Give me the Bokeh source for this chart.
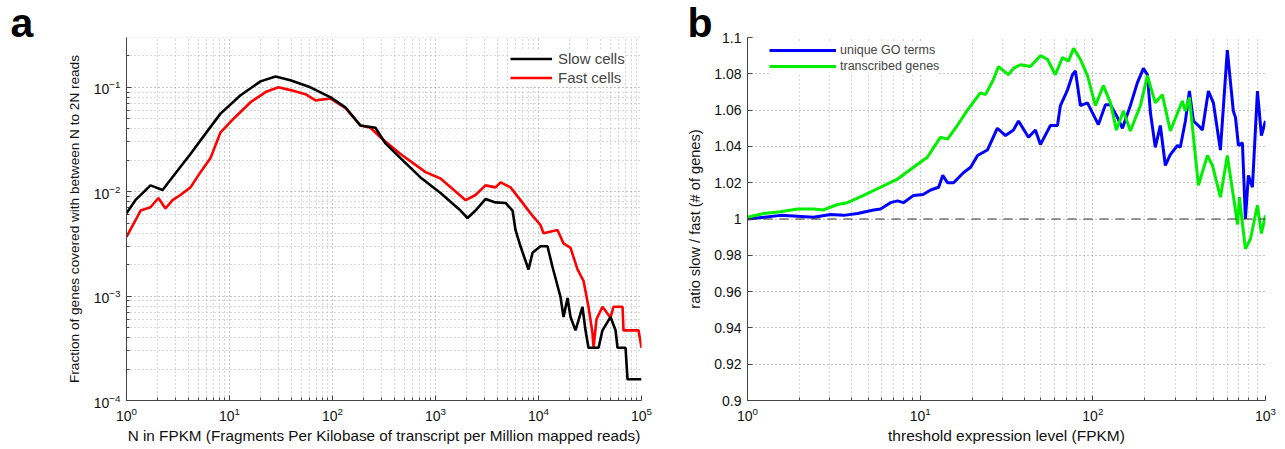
from bokeh.plotting import figure
from bokeh.layouts import row
from bokeh.models import (FixedTicker, Legend, LegendItem, Span,
                          CustomJSTickFormatter, Range1d)
from bokeh.embed import file_html
from bokeh.resources import INLINE

FONT = "Liberation Sans"

# ---------------- panel a data ----------------
slow_n = [1, 1.22, 1.71, 2.24, 2.99, 4.18, 5.85, 8.18, 12.8, 20, 28, 39, 61, 96, 134,
          187, 261, 327, 457, 715, 1119, 1749, 2046, 2445, 3055, 3828, 4786, 5598,
          5980, 6685, 8000, 8750, 10450, 12220, 13680, 16360, 17500, 19140, 20460,
          22870, 26730, 28590, 30570, 38280, 41800, 50000, 55980, 58500, 70000,
          73140, 100000]
slow_frac = [0.0062, 0.0083, 0.0115, 0.0104, 0.015, 0.023, 0.036, 0.056, 0.084, 0.114,
             0.127, 0.117, 0.1, 0.08, 0.064, 0.043, 0.041, 0.029, 0.021, 0.0137,
             0.0097, 0.0066, 0.0056, 0.0066, 0.0085, 0.0079, 0.0078, 0.0066, 0.0043,
             0.0030, 0.0018, 0.0026, 0.003, 0.003, 0.0019, 0.00098, 0.00063, 0.00096,
             0.00063, 0.00047, 0.00079, 0.00047, 0.00032, 0.00032, 0.00047, 0.00063,
             0.00047, 0.00032, 0.00032, 0.00016, 0.00016]

fast_n = [1, 1.22, 1.37, 1.71, 2.04, 2.39, 2.8, 3.34, 4.18, 5.23, 6.54, 8.18, 11.4, 16,
          22.4, 29.8, 39, 54.6, 68.4, 96, 134, 187, 234, 293, 457, 801, 1119, 1963,
          2445, 3055, 3828, 4286, 5353, 6685, 8370, 10450, 11190, 15290, 17500,
          20460, 23920, 27350, 30570, 33450, 34220, 36560, 41800, 50000, 53460,
          65430, 66870, 93500, 100000]
fast_frac = [0.0037, 0.0053, 0.0066, 0.0071, 0.0087, 0.0069, 0.0083, 0.0093, 0.011,
             0.0154, 0.021, 0.037, 0.052, 0.072, 0.09, 0.1, 0.094, 0.086, 0.075, 0.078,
             0.063, 0.043, 0.041, 0.033, 0.023, 0.0154, 0.0134, 0.0083, 0.0093, 0.0115,
             0.011, 0.0123, 0.011, 0.0083, 0.0062, 0.0048, 0.004, 0.0043, 0.0032,
             0.0029, 0.0018, 0.0014, 0.00079, 0.00044, 0.00032, 0.0006, 0.00079,
             0.00062, 0.00079, 0.00079, 0.00047, 0.00047, 0.00032]

# ---------------- panel b data ----------------
thr_go = [1, 1.55, 1.95, 2.41, 3.03, 3.6, 4.34, 5.37, 5.89, 6.73, 7.39, 8.0, 9.15, 10.4,
          11.5, 12.8, 13.5, 14.4, 15.6, 17.8, 19.6, 21.5, 24.5, 28, 31.2, 34.7, 37.1,
          42.4, 46.5, 49.7, 56.8, 62.4, 64.9, 71.3, 76.2, 79.3, 84.7, 93.1, 100.7,
          107.7, 118.3, 126.5, 138.8, 148.4, 165, 181, 196.3, 207, 215.6, 230, 246,
          263, 281, 309, 321, 343.6, 362.4, 382.6, 408.7, 431, 467, 499, 548, 601,
          651, 670, 697, 735, 765, 796, 840, 898, 947, 1000]
ratio_go = [1.0, 1.002, 1.0015, 1.001, 1.0025, 1.002, 1.003, 1.005, 1.0055, 1.009,
            1.010, 1.009, 1.013, 1.0135, 1.016, 1.0175, 1.024, 1.020, 1.020, 1.0255,
            1.0285, 1.035, 1.038, 1.050, 1.046, 1.049, 1.054, 1.045, 1.049, 1.041,
            1.0515, 1.0515, 1.0625, 1.071, 1.0795, 1.0815, 1.0625, 1.064, 1.0575,
            1.052, 1.063, 1.063, 1.056, 1.050, 1.0625, 1.075, 1.083, 1.0795, 1.0585,
            1.0395, 1.0515, 1.0295, 1.0355, 1.0405, 1.0395, 1.054, 1.0705, 1.054,
            1.0515, 1.049, 1.0705, 1.064, 1.038, 1.093, 1.0595, 1.056, 1.0405, 1.042,
            1.0, 1.024, 1.0175, 1.0705, 1.046, 1.054]

thr_genes = [1, 1.24, 1.55, 1.95, 2.41, 2.75, 3.32, 3.79, 4.7, 5.89, 7.39, 9.15, 11.0,
             13.1, 14.4, 16.4, 18.8, 22.3, 23.9, 26.6, 28.4, 32.4, 34.7, 38.1, 43.5,
             49.7, 54.6, 60.7, 66.7, 72.3, 77.3, 84.7, 93.1, 103.5, 115.1, 126.5, 137,
             150.3, 165, 188.6, 207, 230, 252.8, 281, 330, 343.6, 362.4, 408.7, 461,
             493, 548, 601, 689, 706, 765, 818, 898, 947, 1000]
ratio_genes = [1.001, 1.003, 1.004, 1.0055, 1.0055, 1.005, 1.008, 1.009, 1.013, 1.0175,
               1.022, 1.0285, 1.034, 1.045, 1.044, 1.0515, 1.060, 1.0695, 1.0685,
               1.077, 1.084, 1.0795, 1.083, 1.085, 1.084, 1.090, 1.088, 1.0795, 1.089,
               1.087, 1.094, 1.088, 1.079, 1.0625, 1.0735, 1.064, 1.049, 1.0595,
               1.0485, 1.0625, 1.079, 1.064, 1.0685, 1.0485, 1.065, 1.0595, 1.067,
               1.0185, 1.035, 1.0295, 1.012, 1.035, 0.997, 1.012, 0.9835, 0.989,
               1.0075, 0.992, 1.002]

# ---------------- ticks ----------------
a_xticks = [1, 10, 100, 1000, 10000, 100000]
a_yticks = [1e-4, 1e-3, 1e-2, 1e-1]
b_xticks = [1, 10, 100, 1000]
b_yticks = [0.9, 0.92, 0.94, 0.96, 0.98, 1.0, 1.02, 1.04, 1.06, 1.08, 1.1]


def minor_log(lo, hi):
    return [m * 10.0 ** e for e in range(lo, hi) for m in range(2, 10)]


def style(p, xlab_size, ylab_size, title_offset):
    p.outline_line_color = None
    p.background_fill_color = "white"
    t = p.title
    t.text_font = FONT
    t.text_font_size = "41px"
    t.text_font_style = "bold"
    t.text_color = "black"
    t.align = "left"
    t.offset = title_offset
    t.standoff = -16
    for ax in (p.xaxis[0], p.yaxis[0]):
        ax.axis_line_color = "#444444"
        ax.major_tick_line_color = "#444444"
        ax.minor_tick_line_color = "#444444"
        ax.major_tick_in = 5
        ax.major_tick_out = 0
        ax.minor_tick_in = 3
        ax.minor_tick_out = 0
        ax.major_label_text_font = FONT
        ax.major_label_text_font_size = "14px"
        ax.major_label_text_color = "#111111"
        ax.axis_label_text_font = FONT
        ax.axis_label_text_font_style = "normal"
        ax.axis_label_text_color = "#111111"
    p.xaxis[0].axis_label_text_font_size = xlab_size
    p.yaxis[0].axis_label_text_font_size = ylab_size
    p.xaxis[0].major_label_standoff = 6
    p.xaxis[0].axis_label_standoff = 3
    p.yaxis[0].major_label_standoff = 6
    p.yaxis[0].axis_label_standoff = 9
    for g in (p.xgrid[0], p.ygrid[0]):
        g.grid_line_color = "#8a8a8a"
        g.grid_line_dash = "1 3"
        g.grid_line_width = 1
        g.minor_grid_line_color = "#b0b0b0"
        g.minor_grid_line_dash = "1 3"
        g.minor_grid_line_width = 1


# ---------------- panel a ----------------
pa = figure(width=680, height=449, x_axis_type="log", y_axis_type="log",
            x_range=Range1d(1, 1e5), y_range=Range1d(1e-4, 0.3), title="a",
            output_backend="svg", toolbar_location=None,
            min_border_left=126, min_border_right=39, min_border_top=37,
            min_border_bottom=49)
pa.xaxis[0].ticker = FixedTicker(ticks=a_xticks, minor_ticks=minor_log(0, 5))
pa.yaxis[0].ticker = FixedTicker(ticks=a_yticks, minor_ticks=minor_log(-4, 0))
pa.xaxis[0].axis_label = "N in FPKM (Fragments Per Kilobase of transcript per Million mapped reads)"
pa.yaxis[0].axis_label = "Fraction of genes covered with between N to 2N reads"
style(pa, "15.3px", "13.6px", -116)

r_fast = pa.line(fast_n, fast_frac, line_color="#ff0000", line_width=2.6)
r_slow = pa.line(slow_n, slow_frac, line_color="#000000", line_width=2.6)

leg_a = Legend(items=[LegendItem(label="Slow cells", renderers=[r_slow]),
                      LegendItem(label="Fast cells", renderers=[r_fast])],
               location=(384, 313), glyph_width=42, glyph_height=19, label_height=19,
               spacing=0, padding=4, label_standoff=6, label_text_font=FONT,
               label_text_font_size="15px", border_line_color=None,
               background_fill_color="white", background_fill_alpha=1.0)
pa.add_layout(leg_a)

# ---------------- panel b ----------------
pb = figure(width=605, height=449, x_axis_type="log",
            x_range=Range1d(1, 1000), y_range=Range1d(0.9, 1.1), title="b",
            output_backend="svg", toolbar_location=None,
            min_border_left=67, min_border_right=20, min_border_top=35,
            min_border_bottom=49)
pb.xaxis[0].ticker = FixedTicker(ticks=b_xticks, minor_ticks=minor_log(0, 3))
pb.yaxis[0].ticker = FixedTicker(ticks=b_yticks)
pb.yaxis[0].formatter = CustomJSTickFormatter(
    code="return (Math.round(tick * 100) / 100).toString();")
pb.xaxis[0].axis_label = "threshold expression level (FPKM)"
pb.yaxis[0].axis_label = "ratio slow / fast (# of genes)"
style(pb, "15.5px", "14.6px", -60)
pb.yaxis[0].axis_label_standoff = 8

pb.add_layout(Span(location=1.0, dimension="width", line_color="#333333",
                   line_dash="9 7", line_width=1))
r_go = pb.line(thr_go, ratio_go, line_color="#0000ff", line_width=3)
r_genes = pb.line(thr_genes, ratio_genes, line_color="#00ee00", line_width=3)

leg_b = Legend(items=[LegendItem(label="unique GO terms", renderers=[r_go]),
                      LegendItem(label="transcribed genes", renderers=[r_genes])],
               location=(22, 326), glyph_width=67, glyph_height=16, label_height=16,
               spacing=0, padding=6, label_standoff=4, label_text_font=FONT,
               label_text_font_size="12.5px", border_line_color=None,
               background_fill_color="white", background_fill_alpha=1.0)
pb.add_layout(leg_b)

layout = row(pa, pb)
open("out.html", "w").write(file_html(layout, INLINE))
